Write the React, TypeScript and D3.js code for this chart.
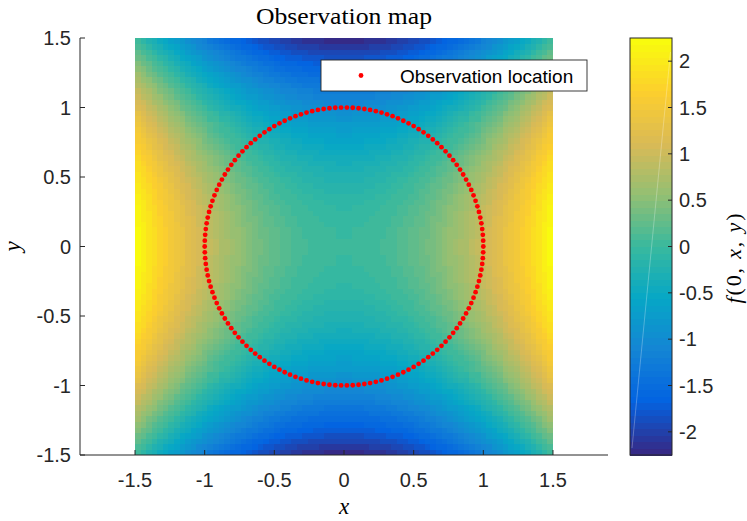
import React from "react";
import * as d3 from "d3";

const W = 747;
const H = 521;

// Tick labels
const xTicks = [-1.5, -1, -0.5, 0, 0.5, 1, 1.5];
const yTicks = [-1.5, -1, -0.5, 0, 0.5, 1, 1.5];
const cTicks = [-2, -1.5, -1, -0.5, 0, 0.5, 1, 1.5, 2];

// Field grid: cells of width 0.04 on [-1.5, 1.5]
const gridMin = -1.5;
const gridStep = 0.04;
// f(0,x,y) read along y = 0 (cell centres from the edge x=-1.48 to the centre x=0)
const xHalfProfile = [
  2.19, 2.07, 1.96, 1.85, 1.74, 1.64, 1.54, 1.44, 1.35, 1.25, 1.17, 1.08, 1.0,
  0.92, 0.85, 0.77, 0.71, 0.64, 0.58, 0.52, 0.46, 0.41, 0.36, 0.31, 0.27, 0.23,
  0.19, 0.16, 0.13, 0.1, 0.08, 0.06, 0.04, 0.03, 0.01, 0.01, 0.0, 0.0,
];
// f(0,x,y) read along x = 0 (cell centres from the edge y=-1.48 to the centre y=0)
const yHalfProfile = [
  -2.19, -2.07, -1.96, -1.85, -1.74, -1.64, -1.54, -1.44, -1.35, -1.25, -1.17,
  -1.08, -1.0, -0.92, -0.85, -0.77, -0.71, -0.64, -0.58, -0.52, -0.46, -0.41,
  -0.36, -0.31, -0.27, -0.23, -0.19, -0.16, -0.13, -0.1, -0.08, -0.06, -0.04,
  -0.03, -0.01, -0.01, 0.0, 0.0,
];
const mirror = (h: number[]) => [...h, ...h.slice(0, -1).reverse()];
const fieldAlongX = mirror(xHalfProfile);
const fieldAlongY = mirror(yHalfProfile);

// Observation locations on the unit circle
const obsCount = 150;
const obsRadius = 1;
const obsAngles = d3.range(obsCount).map((k) => (2 * Math.PI * k) / obsCount);

// Colormap (parula) and limits
const parulaStops = [
  "#352a87", "#0363e1", "#1485d4", "#06a7c6", "#38b99e",
  "#92bf73", "#d9ba56", "#fcce2e", "#f9fb0e",
];
const cLimits = [-2.25, 2.25];
const nLevels = 64;

const AX = "#262626";
const SANS = "'Liberation Sans', Arial, Helvetica, sans-serif";
const SERIF = "'Liberation Serif', 'Times New Roman', serif";

export default function App() {
  const x = d3.scaleLinear().domain([-1.895, 1.895]).range([80, 608]);
  const y = d3.scaleLinear().domain([-1.5, 1.5]).range([455, 38]);
  const c = d3.scaleLinear().domain(cLimits).range([455, 38]);
  const cmap = d3.piecewise(d3.interpolateRgb, parulaStops);
  const level = (v: number) =>
    Math.max(0, Math.min(nLevels - 1, Math.floor(((v - cLimits[0]) / (cLimits[1] - cLimits[0])) * nLevels)));
  const colorOf = (v: number) => cmap(level(v) / (nLevels - 1));

  const cells: JSX.Element[] = [];
  fieldAlongY.forEach((fy, j) => {
    const y0 = gridMin + j * gridStep;
    const py0 = y(y0 + gridStep);
    const py1 = y(y0);
    fieldAlongX.forEach((fx, i) => {
      const x0 = gridMin + i * gridStep;
      const px0 = x(x0);
      const px1 = x(x0 + gridStep);
      cells.push(
        <rect
          key={`${i}-${j}`}
          x={px0}
          y={py0}
          width={px1 - px0 + 0.4}
          height={py1 - py0 + 0.4}
          fill={colorOf(fx + fy)}
        />
      );
    });
  });

  const cbX0 = 630;
  const cbX1 = 672;
  const levelVals = d3.range(nLevels);
  const levelH = (c.range()[0] - c.range()[1]) / nLevels;

  return (
    <svg
      width={W}
      height={H}
      viewBox={`0 0 ${W} ${H}`}
      style={{ position: "absolute", left: 0, top: 0, display: "block", background: "#fff" }}
    >
      <rect x={0} y={0} width={W} height={H} fill="#fff" />
      {/* heatmap */}
      <g shapeRendering="crispEdges">{cells}</g>

      {/* observation dots */}
      <g fill="#ff0000">
        {obsAngles.map((a, k) => (
          <circle key={k} cx={x(obsRadius * Math.cos(a))} cy={y(obsRadius * Math.sin(a))} r={2.4} />
        ))}
      </g>

      {/* axes */}
      <g stroke={AX} strokeWidth={1} fill="none">
        <line x1={x.range()[0]} x2={x.range()[0]} y1={y.range()[0]} y2={y.range()[1]} />
        <line x1={x.range()[0]} x2={x.range()[1]} y1={y.range()[0]} y2={y.range()[0]} />
        {xTicks.map((t) => (
          <line key={`xt${t}`} x1={x(t)} x2={x(t)} y1={y.range()[0]} y2={y.range()[0] - 5} />
        ))}
        {yTicks.map((t) => (
          <line key={`yt${t}`} x1={x.range()[0]} x2={x.range()[0] + 5} y1={y(t)} y2={y(t)} />
        ))}
      </g>
      <g fill={AX} fontFamily={SANS} fontSize={20}>
        {xTicks.map((t) => (
          <text key={`xl${t}`} x={x(t)} y={487} textAnchor="middle">
            {String(t)}
          </text>
        ))}
        {yTicks.map((t) => (
          <text key={`yl${t}`} x={71} y={y(t)} dy="0.36em" textAnchor="end">
            {String(t)}
          </text>
        ))}
      </g>

      {/* title and axis labels */}
      <text x={x(0)} y={24} textAnchor="middle" fontFamily={SERIF} fontSize={24} fill="#000" textLength={176} lengthAdjust="spacingAndGlyphs">
        Observation map
      </text>
      <text x={x(0)} y={514} textAnchor="middle" fontFamily={SERIF} fontStyle="italic" fontSize={23} fill="#000">
        x
      </text>
      <text transform={`translate(20,${y(0)}) rotate(-90)`} textAnchor="middle" fontFamily={SERIF} fontStyle="italic" fontSize={23} fill="#000">
        y
      </text>

      {/* legend */}
      <rect x={321} y={60} width={266} height={31} fill="#fff" stroke={AX} strokeWidth={0.9} />
      <circle cx={361} cy={75.5} r={2.4} fill="#ff0000" />
      <text x={400} y={82.5} fontFamily={SANS} fontSize={19} fill="#000">
        Observation location
      </text>

      {/* colorbar */}
      <g shapeRendering="crispEdges">
        {levelVals.map((k) => (
          <rect
            key={`cb${k}`}
            x={cbX0}
            y={c.range()[0] - (k + 1) * levelH}
            width={cbX1 - cbX0}
            height={levelH + 0.5}
            fill={cmap(k / (nLevels - 1))}
          />
        ))}
      </g>
      <line x1={632} y1={448} x2={670.5} y2={52} stroke="#fff" strokeOpacity={0.35} strokeWidth={0.8} />
      <rect x={cbX0} y={c.range()[1]} width={cbX1 - cbX0} height={c.range()[0] - c.range()[1]} fill="none" stroke={AX} strokeWidth={1} />
      <g stroke={AX} strokeWidth={1}>
        {cTicks.map((t) => (
          <line key={`ct${t}`} x1={cbX1} x2={cbX1 - 4} y1={c(t)} y2={c(t)} />
        ))}
      </g>
      <g fill={AX} fontFamily={SANS} fontSize={20}>
        {cTicks.map((t) => (
          <text key={`cl${t}`} x={679} y={c(t)} dy="0.36em">
            {String(t)}
          </text>
        ))}
      </g>
      <text transform={`translate(741,${c(0) + 12}) rotate(-90)`} textAnchor="middle" fontFamily={SERIF} fontSize={22} fill="#000" textLength={90} lengthAdjust="spacing">
        <tspan fontStyle="italic">f</tspan>
        <tspan>(0, </tspan>
        <tspan fontStyle="italic">x</tspan>
        <tspan>, </tspan>
        <tspan fontStyle="italic">y</tspan>
        <tspan>)</tspan>
      </text>
    </svg>
  );
}
